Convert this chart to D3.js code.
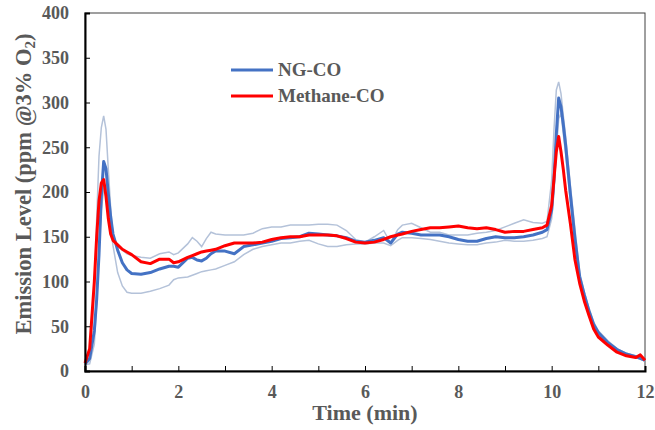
<!DOCTYPE html>
<html><head><meta charset="utf-8">
<script src="https://cdn.jsdelivr.net/npm/d3@7"></script>
<style>body{margin:0;background:#fff}svg{display:block}</style>
</head><body>
<svg id="chart" width="655" height="430"></svg>
<script>
const timeMin = [0,0.1,0.2,0.25,0.3,0.35,0.4,0.45,0.5,0.55,0.6,0.7,0.8,0.9,1.0,1.2,1.4,1.6,1.8,1.9,2.0,2.2,2.3,2.4,2.5,2.6,2.7,2.8,3.0,3.2,3.4,3.6,3.8,4.0,4.2,4.4,4.6,4.8,5.0,5.2,5.4,5.6,5.8,6.0,6.2,6.4,6.55,6.7,6.8,7.0,7.2,7.4,7.6,7.8,8.0,8.2,8.4,8.6,8.8,9.0,9.2,9.4,9.6,9.8,9.9,10.0,10.05,10.1,10.15,10.2,10.25,10.3,10.4,10.5,10.6,10.7,10.8,10.9,11.0,11.2,11.4,11.6,11.8,11.9,12.0];
const ngMean = [8,14,45,80,130,195,234,226,198,172,153,135,121,113,109,108,110,114,117,117,116,126,127,124,123,126,131,134,134,131,139,141,143,145,148,149,150,154,153,152,151,149,145,144,146,149,143,153,155,154,152,152,152,150,147,145,145,148,150,149,149,150,152,155,158,180,215,265,305,295,275,252,198,148,105,85,67,52,43,32,24,19,16,14,12];
const methaneCO = [9,25,100,150,190,210,214,195,170,153,146,141,136,133,130,122,120,125,125,121,122,127,129,131,133,134,135,136,140,143,143,143,144,147,149,150,150,152,152,152,151,148,144,143,144,147,150,152,153,156,158,160,160,161,162,160,159,160,158,155,156,156,158,160,163,185,215,245,262,245,225,202,165,124,98,78,62,47,38,29,21,17,15,18,12];
const ngUpper = [6,12,90,170,240,272,285,270,225,182,152,140,135,131,129,127,126,131,133,130,132,142,149,145,139,148,155,153,152,152,152,154,159,161,161,163,163,163,164,164,163,157,147,144,150,157,143,158,163,165,160,155,155,152,152,152,154,155,157,161,165,169,166,165,167,213,270,314,323,310,285,262,208,158,110,88,70,55,45,34,25,20,17,15,13];
const ngLower = [7,8,30,75,135,180,203,208,185,160,140,110,95,88,87,87,89,92,96,102,104,105,107,109,111,112,113,114,118,122,130,136,139,141,143,143,145,146,142,139,139,141,142,142,143,143,140,146,149,149,148,147,145,143,142,141,141,143,144,146,145,145,146,148,150,170,200,245,282,288,265,242,190,140,100,81,64,50,41,30,22,18,15,13,11];
const xTicks = [0,2,4,6,8,10,12];
const yTicks = [0,50,100,150,200,250,300,350,400];
const legendNames = ["NG-CO","Methane-CO"];

const svg = d3.select("#chart");
const L = 85, R = 645, T = 13, B = 371;
const x = d3.scaleLinear().domain([0,12]).range([L,R]);
const y = d3.scaleLinear().domain([0,400]).range([B,T]);
const txt = "#595959";
const font = "'Liberation Serif','Times New Roman',serif";

// frame
svg.append("rect").attr("x",L).attr("y",T).attr("width",R-L).attr("height",B-T)
  .attr("fill","none").attr("stroke","#404040").attr("stroke-width",1);

const line = d3.line().x((d,i)=>x(timeMin[i])).y(d=>y(d));
const g = svg.append("g");
g.append("path").datum(ngUpper).attr("d",line).attr("fill","none").attr("stroke","#B4C2D9").attr("stroke-width",1.5);
g.append("path").datum(ngLower).attr("d",line).attr("fill","none").attr("stroke","#B4C2D9").attr("stroke-width",1.5);
g.append("path").datum(ngMean).attr("d",line).attr("fill","none").attr("stroke","#4472C4").attr("stroke-width",3).attr("stroke-linejoin","round");
g.append("path").datum(methaneCO).attr("d",line).attr("fill","none").attr("stroke","#FF0000").attr("stroke-width",3).attr("stroke-linejoin","round");

// axes
const xAxis = d3.axisBottom(x).tickValues(d3.range(0,13,1)).tickSize(-5).tickFormat(d=>xTicks.includes(d)?d:"").tickPadding(14);
const gx = svg.append("g").attr("transform",`translate(0,${B})`).call(xAxis);
const yAxis = d3.axisLeft(y).tickValues(yTicks).tickSize(-5).tickPadding(16);
const gy = svg.append("g").attr("transform",`translate(${L},0)`).call(yAxis);
[gx,gy].forEach(a=>{
  a.select(".domain").attr("stroke","#000").attr("stroke-width",2);
  a.selectAll(".tick line").attr("stroke","#000").attr("stroke-width",1);
  a.selectAll(".tick text").attr("fill",txt).attr("font-family",font).attr("font-weight","bold").attr("font-size",18);
});

svg.append("text").attr("x",(L+R)/2).attr("y",420).attr("text-anchor","middle")
  .attr("fill",txt).attr("font-family",font).attr("font-weight","bold").attr("font-size",22).text("Time (min)");

const yl = svg.append("text").attr("transform","translate(31,184) rotate(-90)").attr("text-anchor","middle")
  .attr("fill",txt).attr("font-family",font).attr("font-weight","bold").attr("font-size",22.5);
yl.append("tspan").text("Emission Level (ppm @3% O");
yl.append("tspan").attr("font-size",15).attr("dy",4).text("2");
yl.append("tspan").attr("dy",-4).text(")");

// legend
const legColors = ["#4472C4","#FF0000"];
legendNames.forEach((n,i)=>{
  const ly = 70 + i*26;
  svg.append("line").attr("x1",231).attr("x2",273).attr("y1",ly).attr("y2",ly).attr("stroke",legColors[i]).attr("stroke-width",3);
  svg.append("text").attr("x",278).attr("y",ly+6).attr("fill",txt).attr("font-family",font).attr("font-weight","bold").attr("font-size",19).text(n);
});
</script>
</body></html>
